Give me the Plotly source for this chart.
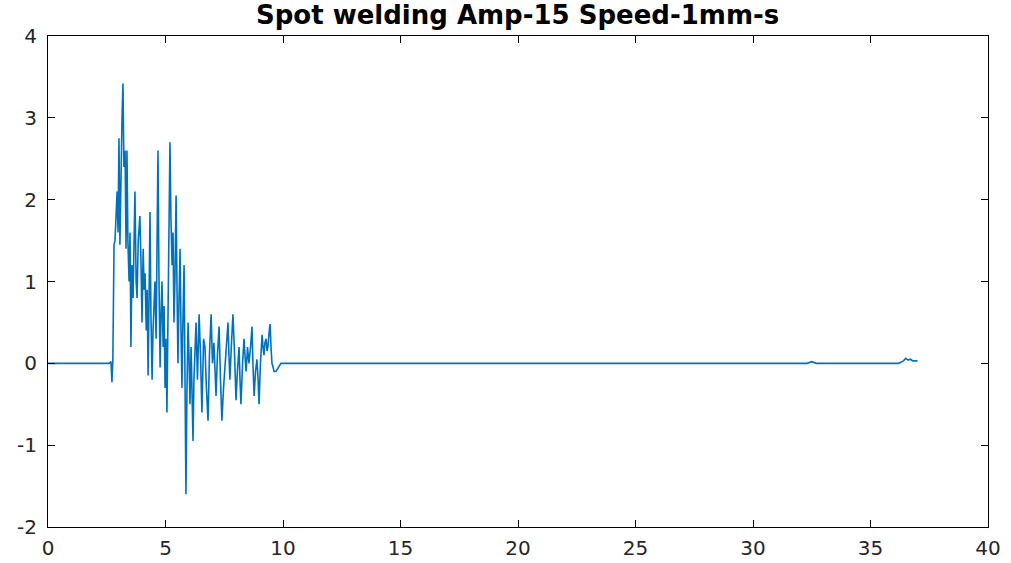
import plotly.graph_objects as go

title_text = "Spot welding Amp-15 Speed-1mm-s"
x_ticks = [0, 5, 10, 15, 20, 25, 30, 35, 40]
y_ticks = [-2, -1, 0, 1, 2, 3, 4]

time_s = [0.0, 1.0, 2.0, 2.6, 2.68, 2.72, 2.76, 2.81,
          2.85, 2.9, 2.94, 2.98, 3.02, 3.06, 3.1, 3.15,
          3.19, 3.23, 3.28, 3.32, 3.36, 3.4, 3.45, 3.49,
          3.53, 3.57, 3.62, 3.66, 3.7, 3.75, 3.79, 3.84,
          3.91, 3.96, 4.0, 4.05, 4.09, 4.13, 4.18, 4.22,
          4.26, 4.3, 4.34, 4.38, 4.43, 4.47, 4.51, 4.55,
          4.6, 4.64, 4.68, 4.72, 4.77, 4.81, 4.85, 4.9,
          4.94, 4.98, 5.02, 5.06, 5.11, 5.15, 5.19, 5.23,
          5.28, 5.32, 5.36, 5.4, 5.45, 5.49, 5.53, 5.57,
          5.62, 5.66, 5.7, 5.74, 5.79, 5.83, 5.87, 5.91,
          5.96, 6.0, 6.04, 6.09, 6.13, 6.17, 6.21, 6.26,
          6.3, 6.36, 6.43, 6.49, 6.55, 6.62, 6.68, 6.74,
          6.81, 6.87, 6.94, 7.0, 7.06, 7.11, 7.15, 7.21,
          7.28, 7.34, 7.4, 7.47, 7.53, 7.6, 7.66, 7.7,
          7.74, 7.8, 7.87, 7.94, 8.0, 8.06, 8.13, 8.17,
          8.21, 8.28, 8.34, 8.38, 8.43, 8.49, 8.55, 8.62,
          8.68, 8.72, 8.77, 8.83, 8.89, 8.94, 8.98, 9.04,
          9.11, 9.15, 9.19, 9.23, 9.28, 9.32, 9.36, 9.4,
          9.45, 9.49, 9.53, 9.58, 9.62, 9.7, 9.79, 9.91,
          10.0, 20.0, 32.3, 32.5, 32.7, 36.2, 36.4, 36.5,
          36.6, 36.7, 36.8, 37.0]
signal = [0.0, 0.0, 0.0, 0.0, 0.02, -0.23, 0.05, 1.45,
          1.5, 1.9, 2.1, 1.6, 2.75, 1.45, 2.3, 3.0,
          3.42, 2.4, 2.6, 1.4, 2.6, 1.5, 1.0, 1.6,
          0.2, 1.2, 0.8, 1.6, 2.1, 1.0, 0.8, 1.5,
          1.8, 1.2, 0.5, 1.4, 0.9, 1.1, 0.4, 0.9,
          -0.15, 0.8, 1.85, 0.6, -0.2, 0.4, 0.7, 1.0,
          0.3, 1.3, 2.6, 1.1, -0.05, 0.6, 1.0, 0.2,
          0.7, -0.3, 0.3, -0.6, 0.9, 1.6, 2.7, 1.8,
          1.2, 1.6, 0.5, 1.0, 2.05, 0.9, 0.0, 0.7,
          1.4, 0.4, -0.3, 0.5, 1.2, -0.2, -1.6, -0.4,
          0.5, 0.1, -0.5, 0.2, -0.3, -0.95, -0.2, 0.1,
          0.5, -0.2, 0.6, 0.1, -0.6, 0.3, 0.2, -0.3,
          -0.7, 0.1, 0.6, 0.0, 0.25, -0.1, -0.4, 0.1,
          0.45, -0.2, -0.7, -0.3, 0.0, 0.3, 0.5, 0.1,
          -0.2, 0.2, 0.6, 0.1, -0.45, -0.1, 0.2, -0.2,
          -0.5, 0.0, 0.3, 0.1, -0.1, 0.2, 0.0, 0.2,
          0.45, 0.0, -0.4, -0.1, 0.05, -0.2, -0.5, 0.0,
          0.35, 0.2, 0.1, 0.25, 0.3, 0.15, 0.2, 0.35,
          0.48, 0.2, 0.0, -0.05, -0.1, -0.1, -0.05, 0.0,
          0.0, 0.0, 0.0, 0.02, 0.0, 0.0, 0.03, 0.06,
          0.04, 0.05, 0.03, 0.03]

fig = go.Figure()
fig.add_trace(go.Scatter(x=time_s, y=signal, mode="lines",
                         line=dict(color="#0072BD", width=1.6), showlegend=False))

tick_font = dict(family="DejaVu Sans", size=20, color="#262626")
axis_common = dict(showline=True, linecolor="black", linewidth=1, mirror="ticks",
                   ticks="inside", ticklen=7, tickcolor="black", showgrid=False,
                   zeroline=False, tickfont=tick_font, automargin=False)
fig.update_xaxes(range=[0, 40], tickvals=x_ticks, ticktext=[str(v) for v in x_ticks],
                 ticklabelstandoff=3, **axis_common)
fig.update_yaxes(range=[-2, 4], tickvals=y_ticks, ticktext=[str(v) for v in y_ticks],
                 ticklabelstandoff=6, **axis_common)

fig.update_layout(
    width=1011, height=563,
    margin=dict(l=48, r=23, t=36, b=36),
    paper_bgcolor="white", plot_bgcolor="white",
    title=dict(text="<b>" + title_text + "</b>", x=0.512, xanchor="center", y=0.99, yanchor="top",
               font=dict(family="DejaVu Sans", size=26, color="black")),
)
fig.write_html("out.html")
